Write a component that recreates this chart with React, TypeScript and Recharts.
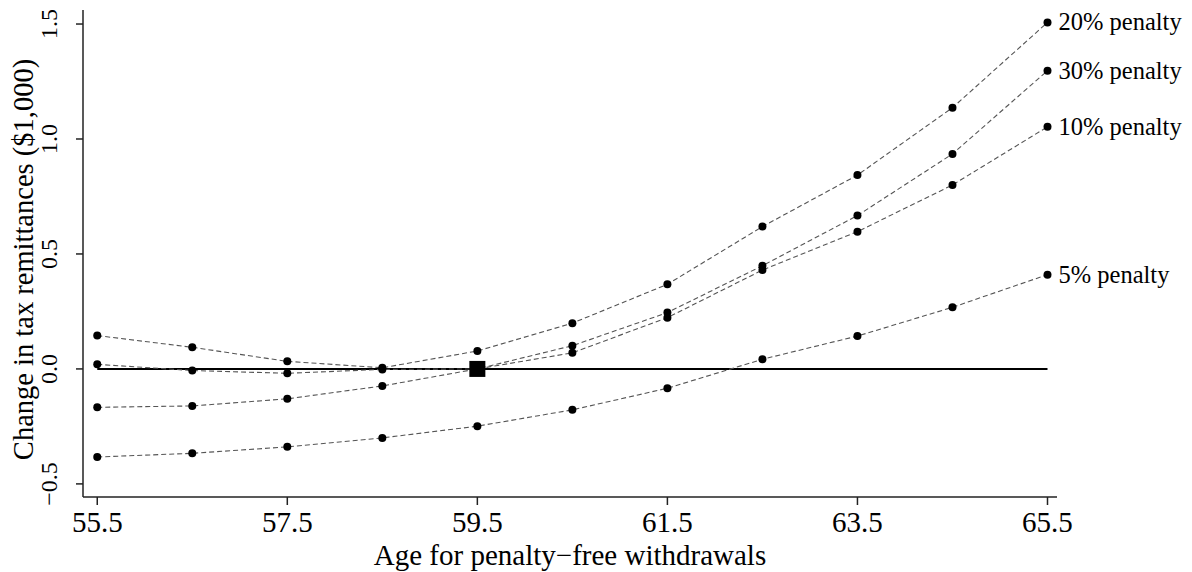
import { LabelList, Line, LineChart, ReferenceDot, ReferenceLine, XAxis, YAxis } from "recharts";

const AGES = [55.5, 56.5, 57.5, 58.5, 59.5, 60.5, 61.5, 62.5, 63.5, 64.5, 65.5];

// change in tax remittances, $1,000s
const PENALTY_20 = [0.145, 0.094, 0.033, 0.005, 0.078, 0.199, 0.368, 0.619, 0.843, 1.136, 1.507];
const PENALTY_30 = [0.02, -0.007, -0.019, -0.002, 0.0, 0.101, 0.245, 0.449, 0.667, 0.935, 1.297];
const PENALTY_10 = [-0.167, -0.161, -0.13, -0.074, 0.0, 0.07, 0.223, 0.43, 0.597, 0.8, 1.053];
const PENALTY_5 = [-0.383, -0.367, -0.339, -0.3, -0.249, -0.178, -0.084, 0.042, 0.143, 0.268, 0.41];

const X_TICKS = [55.5, 57.5, 59.5, 61.5, 63.5, 65.5];
const Y_TICKS = [-0.5, 0, 0.5, 1, 1.5];

const BASELINE_AGE = 59.5;
const BASELINE_CHANGE = 0;

const SERIES = [
  { key: "p20", label: "20% penalty", values: PENALTY_20 },
  { key: "p30", label: "30% penalty", values: PENALTY_30 },
  { key: "p10", label: "10% penalty", values: PENALTY_10 },
  { key: "p5", label: "5% penalty", values: PENALTY_5 }
];

const rows = AGES.map((age, i) => {
  const row: Record<string, number> = { age };
  SERIES.forEach((s) => {
    row[s.key] = s.values[i];
  });
  return row;
});

const textStyle = { fontFamily: '"Liberation Serif", "DejaVu Serif", serif', fill: "#000" };

function formatTick(value: number) {
  return value.toFixed(1).replace("-", "\u2212");
}

function XTick({ x, y, payload }: any) {
  return (
    <text x={x} y={y + 25} textAnchor="middle" fontSize={29} style={textStyle}>
      {formatTick(payload.value)}
    </text>
  );
}

function YTick({ x, y, payload }: any) {
  const tx = x - 17;
  return (
    <text x={tx} y={y} transform={`rotate(-90, ${tx}, ${y})`} textAnchor="middle" fontSize={24} style={textStyle}>
      {formatTick(payload.value)}
    </text>
  );
}

function Dot({ cx, cy, index }: any) {
  return <circle key={`dot-${index}`} cx={cx} cy={cy} r={4} fill="#000" />;
}

function BaselineSquare({ cx, cy }: any) {
  return <rect x={cx - 8} y={cy - 8} width={16} height={16} fill="#000" />;
}

function endLabel(text: string) {
  return ({ x, y, index }: any) =>
    index === AGES.length - 1 ? (
      <text x={x + 11} y={y + 8} fontSize={24.5} style={textStyle}>
        {text}
      </text>
    ) : null;
}

export default function App() {
  return (
    <div style={{ position: "absolute", left: 0, top: 0, background: "#fff" }}>
      <LineChart width={1192} height={572} data={rows} margin={{ top: 10, right: 135, bottom: 45, left: 23 }}>
        <XAxis
          dataKey="age"
          type="number"
          domain={[55.35, 65.6]}
          ticks={X_TICKS}
          height={30}
          tickSize={8}
          tick={<XTick />}
          stroke="#222"
          strokeWidth={1.5}
          label={({ viewBox }: any) => (
            <text
              x={viewBox.x + viewBox.width / 2}
              y={viewBox.y + 68}
              textAnchor="middle"
              fontSize={29}
              style={textStyle}
            >
              Age for penalty{"\u2212"}free withdrawals
            </text>
          )}
        />
        <YAxis
          type="number"
          domain={[-0.557, 1.561]}
          ticks={Y_TICKS}
          width={60}
          tickSize={7}
          tick={<YTick />}
          stroke="#222"
          strokeWidth={1.5}
          label={({ viewBox }: any) => {
            const lx = 33;
            const ly = viewBox.y + viewBox.height / 2 + 6;
            return (
              <text
                x={lx}
                y={ly}
                transform={`rotate(-90, ${lx}, ${ly})`}
                textAnchor="middle"
                fontSize={28.5}
                style={textStyle}
              >
                Change in tax remittances ($1,000)
              </text>
            );
          }}
        />
        <ReferenceLine
          segment={[
            { x: AGES[0], y: 0 },
            { x: AGES[AGES.length - 1], y: 0 }
          ]}
          stroke="#000"
          strokeWidth={2}
        />
        {SERIES.map((s) => (
          <Line
            key={s.key}
            dataKey={s.key}
            type="linear"
            stroke="#555"
            strokeWidth={1.1}
            strokeDasharray="5 3"
            dot={<Dot />}
            activeDot={false}
            isAnimationActive={false}
          >
            <LabelList dataKey={s.key} content={endLabel(s.label)} />
          </Line>
        ))}
        <ReferenceDot x={BASELINE_AGE} y={BASELINE_CHANGE} r={8} shape={<BaselineSquare />} />
      </LineChart>
    </div>
  );
}
